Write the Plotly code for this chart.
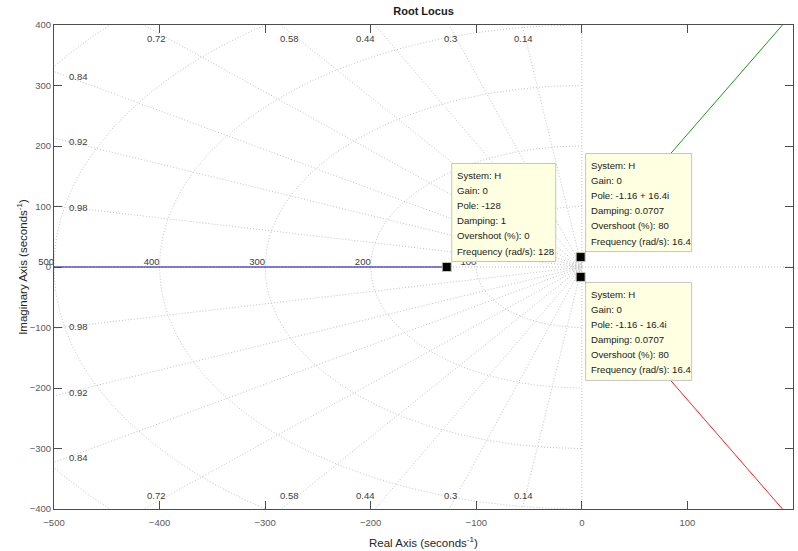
import numpy as np
import plotly.graph_objects as go

# Open-loop poles of H and the end points of the branches inside the view
pole_re = [-128.0, -1.16, -1.16]
pole_im = [0.0, 16.4, -16.4]
real_branch_end = -500.0
cplx_branch_end_re = [190.0, 190.0]
cplx_branch_end_im = [400.0, -400.0]

# Datatip contents
tip_gain = [0, 0, 0]
tip_pole = ["-128", "-1.16 + 16.4i", "-1.16 - 16.4i"]
tip_damping = ["1", "0.0707", "0.0707"]
tip_overshoot = ["0", "80", "80"]
tip_freq = ["128", "16.4", "16.4"]

# s-plane grid
damping_vals = [0.14, 0.3, 0.44, 0.58, 0.72, 0.84, 0.92, 0.98]
wn_circles = [4, 6, 8, 10, 100, 200, 300, 400, 500, 600]
wn_labels = [100, 200, 300, 400, 500]
top_damping = [0.72, 0.58, 0.44, 0.3, 0.14]
top_label_x = [-403, -277, -205, -124, -55]
side_damping = [0.84, 0.92, 0.98]

x_ticks = [-500, -400, -300, -200, -100, 0, 100, 200]
y_ticks = [-400, -300, -200, -100, 0, 100, 200, 300, 400]
x_range = [-500, 200]
y_range = [-400, 400]

GRID = "#c2c2c2"
TXT = "#3c3c3c"
AX = "#4d4d4d"
FONT = "Liberation Sans, Arial, sans-serif"

fig = go.Figure()

def grid_line(xs, ys):
    fig.add_trace(go.Scatter(x=xs, y=ys, mode="lines", hoverinfo="skip",
                             line=dict(color=GRID, width=1, dash="1px,2px"),
                             showlegend=False))

# constant-damping rays (both half planes) plus the axes themselves
R = 2000.0
for z in damping_vals:
    wd = np.sqrt(1 - z * z)
    grid_line([0, -z * R], [0, wd * R])
    grid_line([0, -z * R], [0, -wd * R])
grid_line([x_range[0], x_range[1]], [0, 0])
grid_line([0, 0], [y_range[0], y_range[1]])

# constant natural-frequency semicircles in the left half plane
th = np.linspace(np.pi / 2, 3 * np.pi / 2, 361)
for r in wn_circles:
    grid_line(r * np.cos(th), r * np.sin(th))

# natural-frequency labels sitting on the negative real axis (kept under the datatips)
fig.add_trace(go.Scatter(x=[-w for w in wn_labels], y=[0] * len(wn_labels),
                         mode="text", text=[str(w) for w in wn_labels],
                         textposition="top left", cliponaxis=False,
                         textfont=dict(family=FONT, size=9.5, color=TXT),
                         hoverinfo="skip", showlegend=False))

# root-locus branches
fig.add_trace(go.Scatter(x=[pole_re[0], real_branch_end], y=[pole_im[0], pole_im[0]],
                         mode="lines", line=dict(color="#0000b4", width=1),
                         hoverinfo="skip", showlegend=False))
fig.add_trace(go.Scatter(x=[pole_re[1], cplx_branch_end_re[0]], y=[pole_im[1], cplx_branch_end_im[0]],
                         mode="lines", line=dict(color="#1a961a", width=1),
                         hoverinfo="skip", showlegend=False))
fig.add_trace(go.Scatter(x=[pole_re[2], cplx_branch_end_re[1]], y=[pole_im[2], cplx_branch_end_im[1]],
                         mode="lines", line=dict(color="#ff1a1a", width=1),
                         hoverinfo="skip", showlegend=False))

# selected points
fig.add_trace(go.Scatter(x=pole_re, y=pole_im, mode="markers",
                         marker=dict(symbol="square", size=9, color="black",
                                     line=dict(color="#c8c8a8", width=1)),
                         hoverinfo="skip", showlegend=False))

ann = []
shapes = []
lbl_font = dict(family=FONT, size=9.5, color=TXT)

# damping labels along the top and bottom edges
for z, lx in zip(top_damping, top_label_x):
    for sgn in (1, -1):
        ann.append(dict(x=lx, y=sgn * 377, xref="x", yref="y", text=f"{z:g}",
                        showarrow=False, xanchor="center", yanchor="middle", font=lbl_font))
# damping labels along the left edge
for z in side_damping:
    lx = -488.0
    ly = -lx * np.sqrt(1 - z * z) / z
    for sgn in (1, -1):
        ann.append(dict(x=lx, y=sgn * ly, xref="x", yref="y", text=f"{z:g}",
                        showarrow=False, xanchor="left", yanchor="middle", font=lbl_font))

# datatips: a pale box pinned next to each point, one text row per field
TIP_H = 98
TIP_W = [104, 106, 106]
TIP_DX = 5
TIP_DY = 5.5
ROW = 15.1
tip_font = dict(family=FONT, size=9.6, color="#1a1a1a")
for i in range(3):
    rows = [
        "System: H",
        f"Gain: {tip_gain[i]}",
        f"Pole: {tip_pole[i]}",
        f"Damping: {tip_damping[i]}",
        f"Overshoot (%): {tip_overshoot[i]}",
        f"Frequency (rad/s): {tip_freq[i]}",
    ]
    above = pole_im[i] >= 0
    top = TIP_DY + TIP_H if above else -TIP_DY
    bottom = TIP_DY if above else -TIP_DY - TIP_H
    shapes.append(dict(type="rect", xref="x", yref="y",
                       xsizemode="pixel", ysizemode="pixel",
                       xanchor=pole_re[i], yanchor=pole_im[i],
                       x0=TIP_DX, x1=TIP_DX + TIP_W[i], y0=bottom, y1=top,
                       fillcolor="#ffffe1", line=dict(color="#c4c4c4", width=1),
                       layer="above"))
    for k, txt in enumerate(rows):
        ann.append(dict(x=pole_re[i], y=pole_im[i], xref="x", yref="y", text=txt,
                        showarrow=False, xanchor="left", yanchor="middle",
                        xshift=TIP_DX + 3.5, yshift=top - 12 - k * ROW,
                        font=tip_font))

# axis titles
ann.append(dict(x=0.5, y=-0.068, xref="paper", yref="paper",
                text="Real Axis (seconds<sup>-1</sup>)", showarrow=False,
                xanchor="center", yanchor="middle",
                font=dict(family=FONT, size=11.5, color="#262626")))
ann.append(dict(x=-0.0435, y=0.5, xref="paper", yref="paper",
                text="Imaginary Axis (seconds<sup>-1</sup>)", showarrow=False,
                textangle=-90, xanchor="center", yanchor="middle",
                font=dict(family=FONT, size=11.5, color="#262626")))

axis_common = dict(showgrid=False, zeroline=False, showline=True, linecolor=AX,
                   linewidth=1, mirror="ticks", ticks="inside", ticklen=8,
                   tickcolor=AX, tickwidth=1,
                   tickfont=dict(family=FONT, size=9.5, color="#5a5a5a"))

fig.update_layout(
    width=798, height=551,
    margin=dict(l=54, r=5, t=25, b=42),
    paper_bgcolor="white", plot_bgcolor="white",
    title=dict(text="<b>Root Locus</b>", x=0.5, xref="paper", y=1 - 11 / 551,
               yref="container", xanchor="center", yanchor="middle",
               font=dict(family=FONT, size=11, color="#1a1a1a")),
    xaxis=dict(range=x_range, tickvals=x_ticks, ticklabelstandoff=5, **axis_common),
    yaxis=dict(range=y_range, tickvals=y_ticks, **axis_common),
    annotations=ann,
    shapes=shapes,
)

fig.write_html("out.html")
